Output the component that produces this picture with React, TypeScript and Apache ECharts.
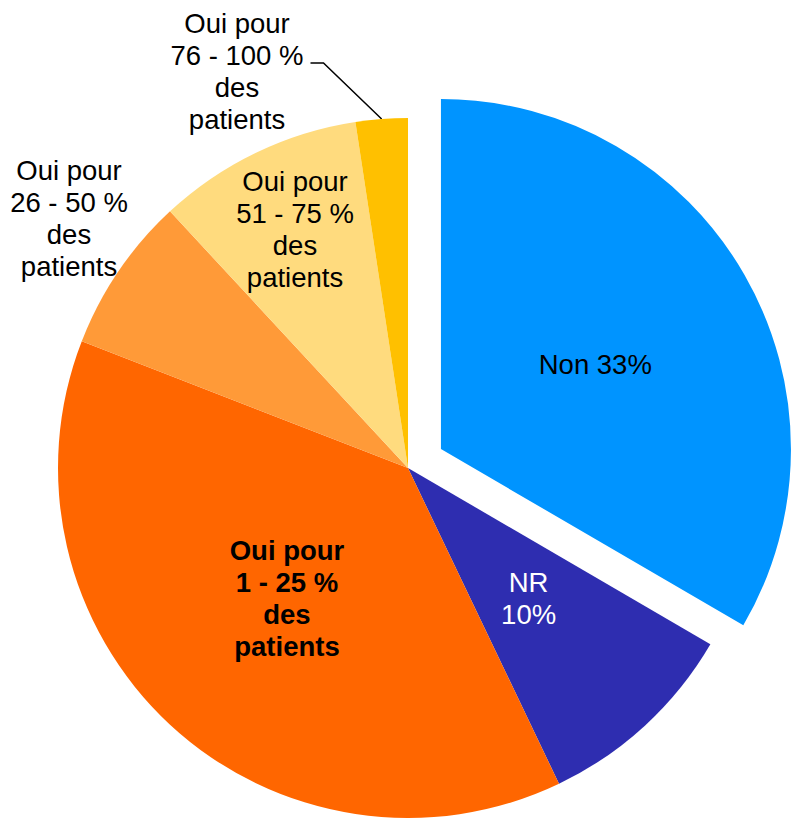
import React, { useEffect, useRef } from "react";
import * as echarts from "echarts";

const categories = [
  "Non",
  "NR",
  "Oui pour 1 - 25 % des patients",
  "Oui pour 26 - 50 % des patients",
  "Oui pour 51 - 75 % des patients",
  "Oui pour 76 - 100 % des patients",
];
const values = [33.4, 9.5, 38.0, 7.2, 9.5, 2.4];
const labelTexts = [
  "Non 33%",
  "NR\n10%",
  "Oui pour\n1 - 25 %\ndes\npatients",
  "Oui pour\n26 - 50 %\ndes\npatients",
  "Oui pour\n51 - 75 %\ndes\npatients",
  "Oui pour\n76 - 100 %\ndes\npatients",
];
const colors = ["#0094FF", "#2E2DB0", "#FF6600", "#FF9A38", "#FFDB7E", "#FFC000"];

export default function App() {
  const ref = useRef<HTMLDivElement>(null);
  useEffect(() => {
    document.body.style.margin = "0";
    if (!ref.current) return;
    const chart = echarts.init(ref.current, null, { renderer: "svg" });
    const font = "'Liberation Sans', Arial, sans-serif";
    const customPos: Record<number, [number, number]> = {
      3: [69, 218],
      4: [295, 229],
      5: [237, 71],
    };
    const data = categories.map((name, i) => ({
      name,
      value: values[i],
      selected: i === 0,
      itemStyle: { color: colors[i] },
      select: { itemStyle: { color: colors[i], borderWidth: 0 } },
      label: {
        show: true,
        position: i === 3 || i === 5 ? "outside" : "inside",
        formatter: labelTexts[i],
        color: i === 1 ? "#ffffff" : "#000000",
        fontWeight: i === 2 ? "bold" : "normal",
        fontSize: 27.5,
        lineHeight: 32,
        fontFamily: font,
        align: "center",
      },
      labelLine: {
        show: i === 5,
        lineStyle: { color: "#000000", width: 1.5 },
      },
    }));
    chart.setOption({
      animation: false,
      series: [
        {
          type: "pie",
          center: [408, 468],
          radius: [0, 350],
          startAngle: 90,
          clockwise: true,
          selectedMode: "single",
          selectedOffset: 38,
          avoidLabelOverlap: false,
          emphasis: { disabled: true },
          label: { show: true },
          labelLine: { show: false, length: 10, length2: 10 },
          labelLayout: (p: any) => {
            if (p.dataIndex === 0) return { dy: 4 };
            const pos = customPos[p.dataIndex];
            if (!pos) return {};
            const out: any = {
              x: pos[0],
              y: pos[1],
              align: "center",
              verticalAlign: "middle",
            };
            if (p.dataIndex === 5 && p.labelLinePoints) {
              const start = p.labelLinePoints[0];
              const ex = pos[0] + p.labelRect.width / 2 + 7;
              const ly = pos[1] - 8;
              out.labelLinePoints = [start, [ex + 13, ly], [ex, ly]];
            }
            return out;
          },
          data,
        },
      ],
    });
    return () => chart.dispose();
  }, []);
  return <div ref={ref} style={{ width: 798, height: 822 }} />;
}
